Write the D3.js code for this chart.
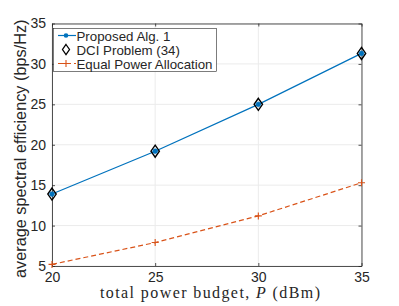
<!DOCTYPE html>
<html>
<head>
<meta charset="utf-8">
<script src="https://cdn.jsdelivr.net/npm/d3@7"></script>
<style>
body { margin: 0; background: #fff; }
text { font-family: "Liberation Sans", Arial, sans-serif; fill: #262626; }
</style>
</head>
<body>
<svg class="chart"></svg>
<script>
var WIDTH = 399;
var HEIGHT = 306;
var LEFT = 52, RIGHT = 361.5, TOP = 23.5, BOTTOM = 266;

var power = [20, 25, 30, 35];
var proposed = [13.9, 19.2, 25.0, 31.3];
var dci = [13.9, 19.2, 25.0, 31.3];
var equalPower = [5.2, 7.9, 11.2, 15.3];
var xTicks = [20, 25, 30, 35];
var yTicks = [5, 10, 15, 20, 25, 30, 35];
var legendLabels = ["Proposed Alg. 1", "DCI Problem (34)", "Equal Power Allocation"];

var svg = d3.select(".chart").attr("width", WIDTH).attr("height", HEIGHT);

var x = d3.scaleLinear().domain([20, 35]).range([LEFT, RIGHT]);
var y = d3.scaleLinear().domain([5, 35]).range([BOTTOM, TOP]);

// grid
svg.append("g").selectAll("line").data(xTicks).enter().append("line")
    .attr("x1", d => x(d)).attr("x2", d => x(d))
    .attr("y1", TOP).attr("y2", BOTTOM)
    .attr("stroke", "#ebebeb").attr("stroke-width", 1);
svg.append("g").selectAll("line").data(yTicks).enter().append("line")
    .attr("x1", LEFT).attr("x2", RIGHT)
    .attr("y1", d => y(d)).attr("y2", d => y(d))
    .attr("stroke", "#ebebeb").attr("stroke-width", 1);

// axes
function styleAxis(g) {
    g.select(".domain").attr("stroke", "#262626").attr("stroke-width", 0.8);
    g.selectAll(".tick line").attr("stroke", "#262626").attr("stroke-width", 0.8);
    g.selectAll(".tick text").style("font-size", "14px").attr("fill", "#262626");
}

svg.append("g").attr("transform", "translate(0," + BOTTOM + ")")
    .call(d3.axisBottom(x).tickValues(xTicks).tickSizeInner(-3).tickSizeOuter(0).tickPadding(6))
    .call(styleAxis);
svg.append("g").attr("transform", "translate(0," + TOP + ")")
    .call(d3.axisTop(x).tickValues(xTicks).tickSizeInner(-3).tickSizeOuter(0).tickFormat(""))
    .call(styleAxis);
svg.append("g").attr("transform", "translate(" + LEFT + ",0)")
    .call(d3.axisLeft(y).tickValues(yTicks).tickSizeInner(-3).tickSizeOuter(0).tickPadding(6))
    .call(styleAxis);
svg.append("g").attr("transform", "translate(" + RIGHT + ",0)")
    .call(d3.axisRight(y).tickValues(yTicks).tickSizeInner(-3).tickSizeOuter(0).tickFormat(""))
    .call(styleAxis);

var BLUE = "#0072BD", ORANGE = "#D95319";
var plus = "M-3.5,0H3.5M0,-3.5V3.5";
var diamond = "M0,-6L4.2,0L0,6L-4.2,0Z";

// equal power
var eqData = power.map((p, i) => [p, equalPower[i]]);
svg.append("path").datum(eqData)
    .attr("fill", "none").attr("stroke", ORANGE).attr("stroke-width", 1.2)
    .attr("stroke-dasharray", "5,3")
    .attr("d", d3.line().x(d => x(d[0])).y(d => y(d[1])));
svg.append("g").selectAll("path").data(eqData).enter().append("path")
    .attr("d", plus)
    .attr("transform", d => "translate(" + x(d[0]) + "," + y(d[1]) + ")")
    .attr("fill", "none").attr("stroke", ORANGE).attr("stroke-width", 1.1);

// proposed
var propData = power.map((p, i) => [p, proposed[i]]);
svg.append("path").datum(propData)
    .attr("fill", "none").attr("stroke", BLUE).attr("stroke-width", 1.2)
    .attr("d", d3.line().x(d => x(d[0])).y(d => y(d[1])));

// dci diamonds
var dciData = power.map((p, i) => [p, dci[i]]);
svg.append("g").selectAll("path").data(dciData).enter().append("path")
    .attr("d", diamond)
    .attr("transform", d => "translate(" + x(d[0]) + "," + y(d[1]) + ")")
    .attr("fill", "none").attr("stroke", "#000").attr("stroke-width", 1.4);

svg.append("g").selectAll("circle").data(propData).enter().append("circle")
    .attr("cx", d => x(d[0])).attr("cy", d => y(d[1])).attr("r", 2.4)
    .attr("fill", BLUE).attr("stroke", BLUE).attr("stroke-width", 0.6);

// legend
var lg = svg.append("g");
lg.append("rect").attr("x", 53.5).attr("y", 28.5).attr("width", 163).attr("height", 43)
    .attr("fill", "#fff").attr("stroke", "#262626").attr("stroke-width", 0.6);
var rowY = [35.5, 49.5, 63.5];
legendLabels.forEach(function(label, i) {
    lg.append("text").attr("x", 76.5).attr("y", rowY[i] + 5)
        .style("font-size", "13.3px").text(label);
});
lg.append("line").attr("x1", 58).attr("x2", 76).attr("y1", rowY[0]).attr("y2", rowY[0])
    .attr("stroke", BLUE).attr("stroke-width", 1.2);
lg.append("circle").attr("cx", 66).attr("cy", rowY[0]).attr("r", 2.3).attr("fill", BLUE);
lg.append("path").attr("d", "M0,-5L3.5,0L0,5L-3.5,0Z")
    .attr("transform", "translate(66," + rowY[1] + ")")
    .attr("fill", "none").attr("stroke", "#000").attr("stroke-width", 1.3);
lg.append("line").attr("x1", 58).attr("x2", 76).attr("y1", rowY[2]).attr("y2", rowY[2])
    .attr("stroke", ORANGE).attr("stroke-width", 1.2).attr("stroke-dasharray", "5,3");
lg.append("path").attr("d", plus)
    .attr("transform", "translate(66," + rowY[2] + ")")
    .attr("fill", "none").attr("stroke", ORANGE).attr("stroke-width", 1.1);

// labels
svg.append("text")
    .attr("transform", "translate(26," + ((TOP + BOTTOM) / 2 + 4) + ") rotate(-90)")
    .attr("text-anchor", "middle").style("font-size", "16.3px")
    .text("average spectral efficiency (bps/Hz)");

var xl = svg.append("text").attr("x", 100).attr("y", 298)
    .attr("textLength", 220).attr("lengthAdjust", "spacing")
    .style("font-family", "'Liberation Serif', 'DejaVu Serif', serif").style("font-size", "16px");
xl.append("tspan").text("total power budget, ");
xl.append("tspan").style("font-style", "italic").text("P");
xl.append("tspan").text(" (dBm)");
</script>
</body>
</html>
